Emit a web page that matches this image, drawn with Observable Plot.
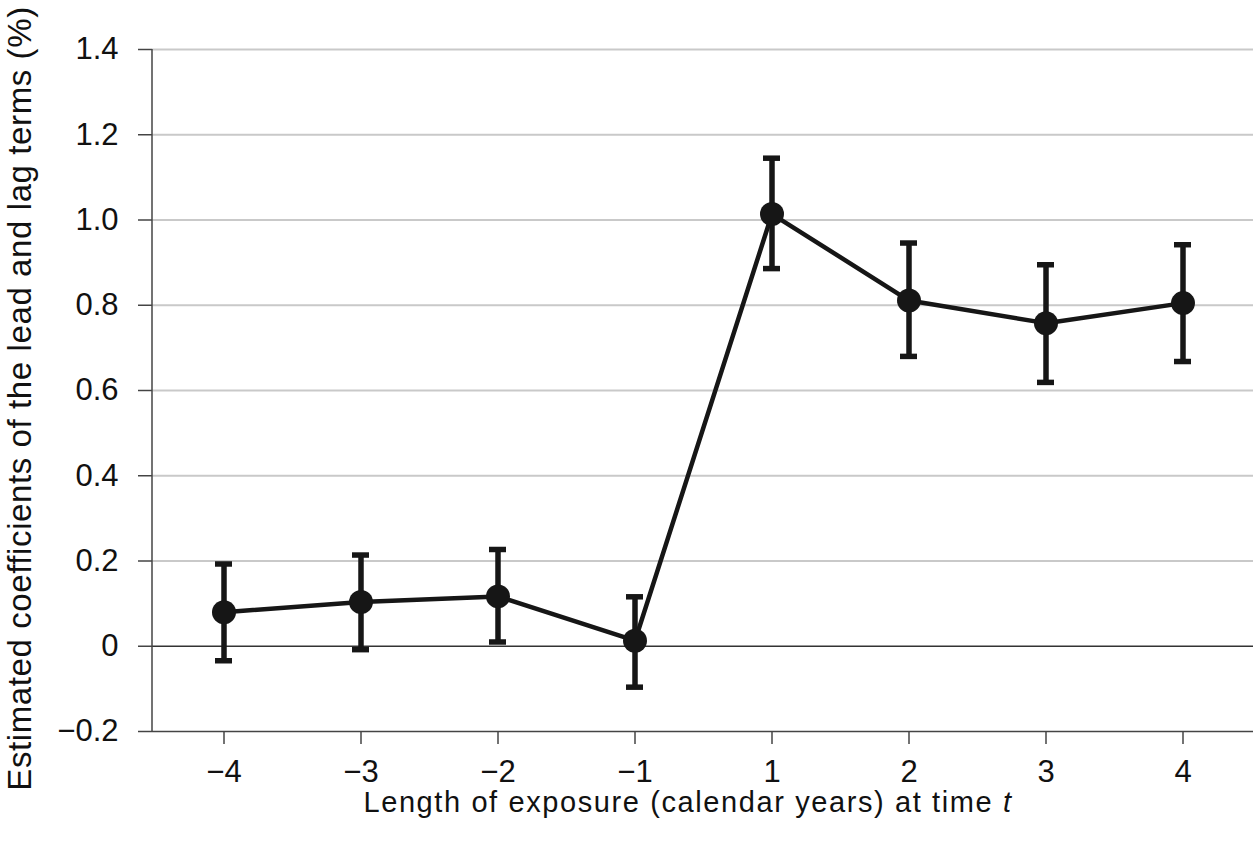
<!DOCTYPE html>
<html>
<head>
<meta charset="utf-8">
<script src="https://cdn.jsdelivr.net/npm/d3@7"></script>
<script src="https://cdn.jsdelivr.net/npm/@observablehq/plot@0.6"></script>
<style>
  html, body { margin: 0; padding: 0; background: #fff; }
  #chart svg { display: block; }
</style>
</head>
<body>
<div id="chart"></div>
<script>
const categories = ["−4", "−3", "−2", "−1", "1", "2", "3", "4"];
const estimates  = [0.080, 0.104, 0.117, 0.013, 1.014, 0.811, 0.758, 0.805];
const upper      = [0.193, 0.214, 0.227, 0.116, 1.145, 0.946, 0.895, 0.942];
const lower      = [-0.034, -0.008, 0.010, -0.096, 0.886, 0.680, 0.619, 0.668];
const yTicks     = [-0.2, 0, 0.2, 0.4, 0.6, 0.8, 1.0, 1.2, 1.4];
const gridTicks  = [0.2, 0.4, 0.6, 0.8, 1.0, 1.2, 1.4];
const yLabel = "Estimated coefficients of the lead and lag terms (%)";
const xLabelMain = "Length of exposure (calendar years) at time ";
const xLabelItalic = "t";

const data = categories.map((c, i) => ({cat: c, est: estimates[i], hi: upper[i], lo: lower[i]}));
const ink = "#161616";
const font = "'Liberation Sans', Arial, Helvetica, sans-serif";

const chart = Plot.plot({
  width: 1260,
  height: 852,
  marginLeft: 152,
  marginRight: 7,
  marginTop: 49,
  marginBottom: 121,
  style: {fontFamily: font, background: "#fff", color: "#111"},
  x: {type: "band", domain: categories, paddingInner: 0.876, paddingOuter: 0.438, align: 0.5},
  y: {domain: [-0.2, 1.4]},
  marks: [
    Plot.gridY(gridTicks, {stroke: "#c9c9c9", strokeOpacity: 1, strokeWidth: 2}),
    Plot.ruleY([0], {stroke: "#333", strokeWidth: 1.5}),
    Plot.ruleY([-0.2], {stroke: "#444", strokeWidth: 1.5}),
    Plot.axisY({
      ticks: yTicks, tickSize: 14, tickPadding: 20, fontSize: 31, stroke: "#444", strokeWidth: 1.5,
      tickFormat: d => d === 0 ? "0" : d3.format(".1f")(d), label: null
    }),
    Plot.axisX({tickSize: 13, tickPadding: 15, fontSize: 31, stroke: "#444", strokeWidth: 1.5, label: null}),
    Plot.text([yLabel], {frameAnchor: "left", dx: -132, dy: 8, rotate: -90, fontSize: 33, fill: "#111", textAnchor: "middle", style: {letterSpacing: "0.6px"}}),
    Plot.ruleX(data, {x: "cat", y1: "lo", y2: "hi", stroke: ink, strokeWidth: 5.5}),
    Plot.tickY(data, {x: "cat", y: "hi", stroke: ink, strokeWidth: 5.5}),
    Plot.tickY(data, {x: "cat", y: "lo", stroke: ink, strokeWidth: 5.5}),
    Plot.line(data, {x: "cat", y: "est", stroke: ink, strokeWidth: 4.5}),
    Plot.dot(data, {x: "cat", y: "est", r: 12, fill: ink, stroke: "none"})
  ]
});

const svg = d3.select(chart);
svg.selectAll("text").filter(function() { return this.textContent === yLabel; }).attr("letter-spacing", "0.6px");

// left axis line
svg.append("line")
  .attr("x1", 152).attr("x2", 152).attr("y1", 49).attr("y2", 731)
  .attr("stroke", "#444").attr("stroke-width", 1.5);

const xl = svg.append("text")
  .attr("x", 688).attr("y", 812)
  .attr("text-anchor", "middle")
  .attr("font-size", 29)
  .attr("letter-spacing", "1.6px")
  .attr("font-family", font)
  .attr("fill", "#111");
xl.append("tspan").text(xLabelMain);
xl.append("tspan").attr("font-style", "italic").text(xLabelItalic);

document.getElementById("chart").appendChild(chart);
</script>
</body>
</html>
